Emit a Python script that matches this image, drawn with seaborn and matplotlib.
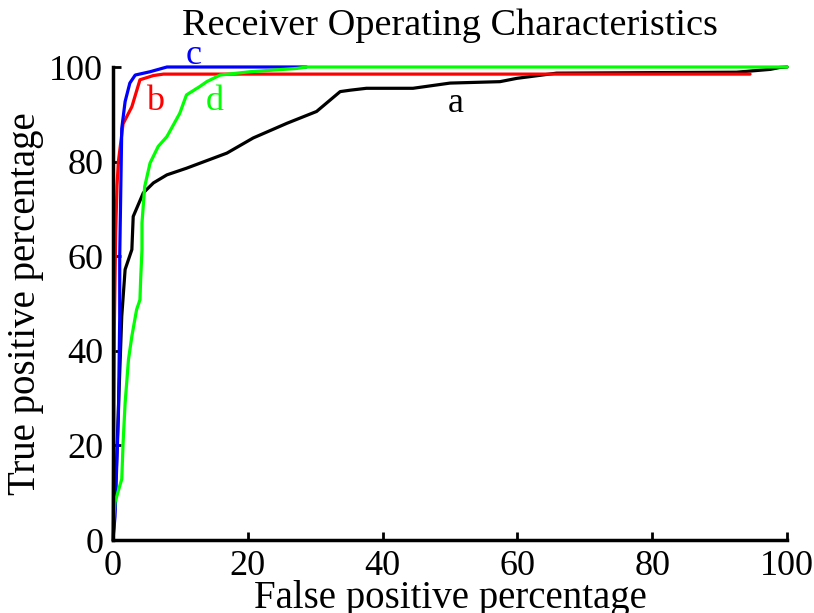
import matplotlib
matplotlib.use("Agg")
import matplotlib.pyplot as plt
import pandas as pd
import seaborn as sns

# ROC curves (percent)
a_fpr = [0, 0.2, 0.5, 0.7, 1.3, 1.8, 2.8, 3.0, 4.5, 6.0, 8.0, 10.9, 16.9, 20.8, 25.8,
         30.2, 33.7, 35.2, 37.6, 44.5, 50.0, 57.4, 59.9, 65.8, 92.5, 97.5, 98.9, 100]
a_tpr = [0, 5, 15, 23.4, 47.3, 57.2, 61.4, 68.4, 73.4, 75.5, 77.2, 78.6, 81.8, 85.0, 88.1,
         90.6, 94.8, 95.1, 95.5, 95.5, 96.6, 96.9, 97.6, 98.7, 98.9, 99.5, 99.9, 100]

b_fpr = [0, 0.1, 0.2, 0.4, 0.6, 0.8, 1.5, 2.8, 4.0, 6.0, 7.5, 94.5]
b_tpr = [0, 20, 45, 65, 75, 80, 88, 91.6, 97.3, 98.2, 98.5, 98.5]

c_fpr = [0, 0.3, 0.8, 1.0, 1.0, 1.3, 1.8, 2.5, 3.3, 5.5, 8.0, 28.7]
c_tpr = [0, 5, 26, 47, 60, 87, 92.7, 96.6, 98.3, 99.0, 100, 100]

d_fpr = [0, 0.05, 0.3, 1.3, 1.5, 1.8, 2.3, 2.8, 3.5, 4.0, 4.1, 4.3, 4.3, 4.7, 5.5, 6.7,
         8.0, 9.9, 10.9, 12.9, 13.9, 15.9, 20.3, 27.3, 28.7, 100]
d_tpr = [0, 3.7, 8, 12.9, 20.6, 29, 38.2, 43.1, 48.7, 50.8, 55, 61.4, 67, 74.7, 79.7, 83.2,
         85.3, 90.2, 94.1, 95.9, 96.9, 98.3, 99.0, 99.7, 100, 100]

curve_names = ["a", "b", "c", "d"]
curve_colors = ["#000000", "#ff0000", "#0000ff", "#00ff00"]
label_x = [50.9, 6.2, 11.9, 15.1]
label_y = [92.2, 92.8, 102.5, 92.8]

frames = []
for name, xs, ys in zip(curve_names, [a_fpr, b_fpr, c_fpr, d_fpr], [a_tpr, b_tpr, c_tpr, d_tpr]):
    frames.append(pd.DataFrame({"fpr": xs, "tpr": ys, "curve": name}))
df = pd.concat(frames, ignore_index=True)

sns.set_style("ticks")
plt.rcParams["font.family"] = ["Liberation Serif", "DejaVu Serif"]
plt.rcParams["text.color"] = "black"
plt.rcParams["axes.labelcolor"] = "black"
plt.rcParams["xtick.color"] = "black"
plt.rcParams["ytick.color"] = "black"

fig = plt.figure(figsize=(8.14, 6.13), dpi=100)
ax = fig.add_axes([0.1388, 0.119, 0.8282, 0.7717])

sns.lineplot(data=df, x="fpr", y="tpr", hue="curve", hue_order=curve_names,
             palette=curve_colors, sort=False, estimator=None, units="curve",
             linewidth=2.3, legend=False, ax=ax)
for line in ax.get_lines():
    line.set_clip_on(False)

for name, col, lx, ly in zip(curve_names, curve_colors, label_x, label_y):
    ax.text(lx, ly, name, color=col, fontsize=26, ha="center", va="center")

ax.set_xlim(0, 100)
ax.set_ylim(0, 100)
ax.set_xticks([0, 20, 40, 60, 80, 100])
ax.set_yticks([0, 20, 40, 60, 80, 100])
ax.tick_params(direction="in", length=6, width=2, labelsize=26, pad=7)
for side in ["left", "bottom"]:
    ax.spines[side].set_linewidth(2.5)
    ax.spines[side].set_color("black")
sns.despine(ax=ax)

ax.set_title("Receiver Operating Characteristics", fontsize=27.5, pad=23)
ax.set_xlabel("False positive percentage", fontsize=28, labelpad=-2)
ax.set_ylabel("True positive percentage", fontsize=28, labelpad=4)

fig.savefig("out.png", dpi=100)
